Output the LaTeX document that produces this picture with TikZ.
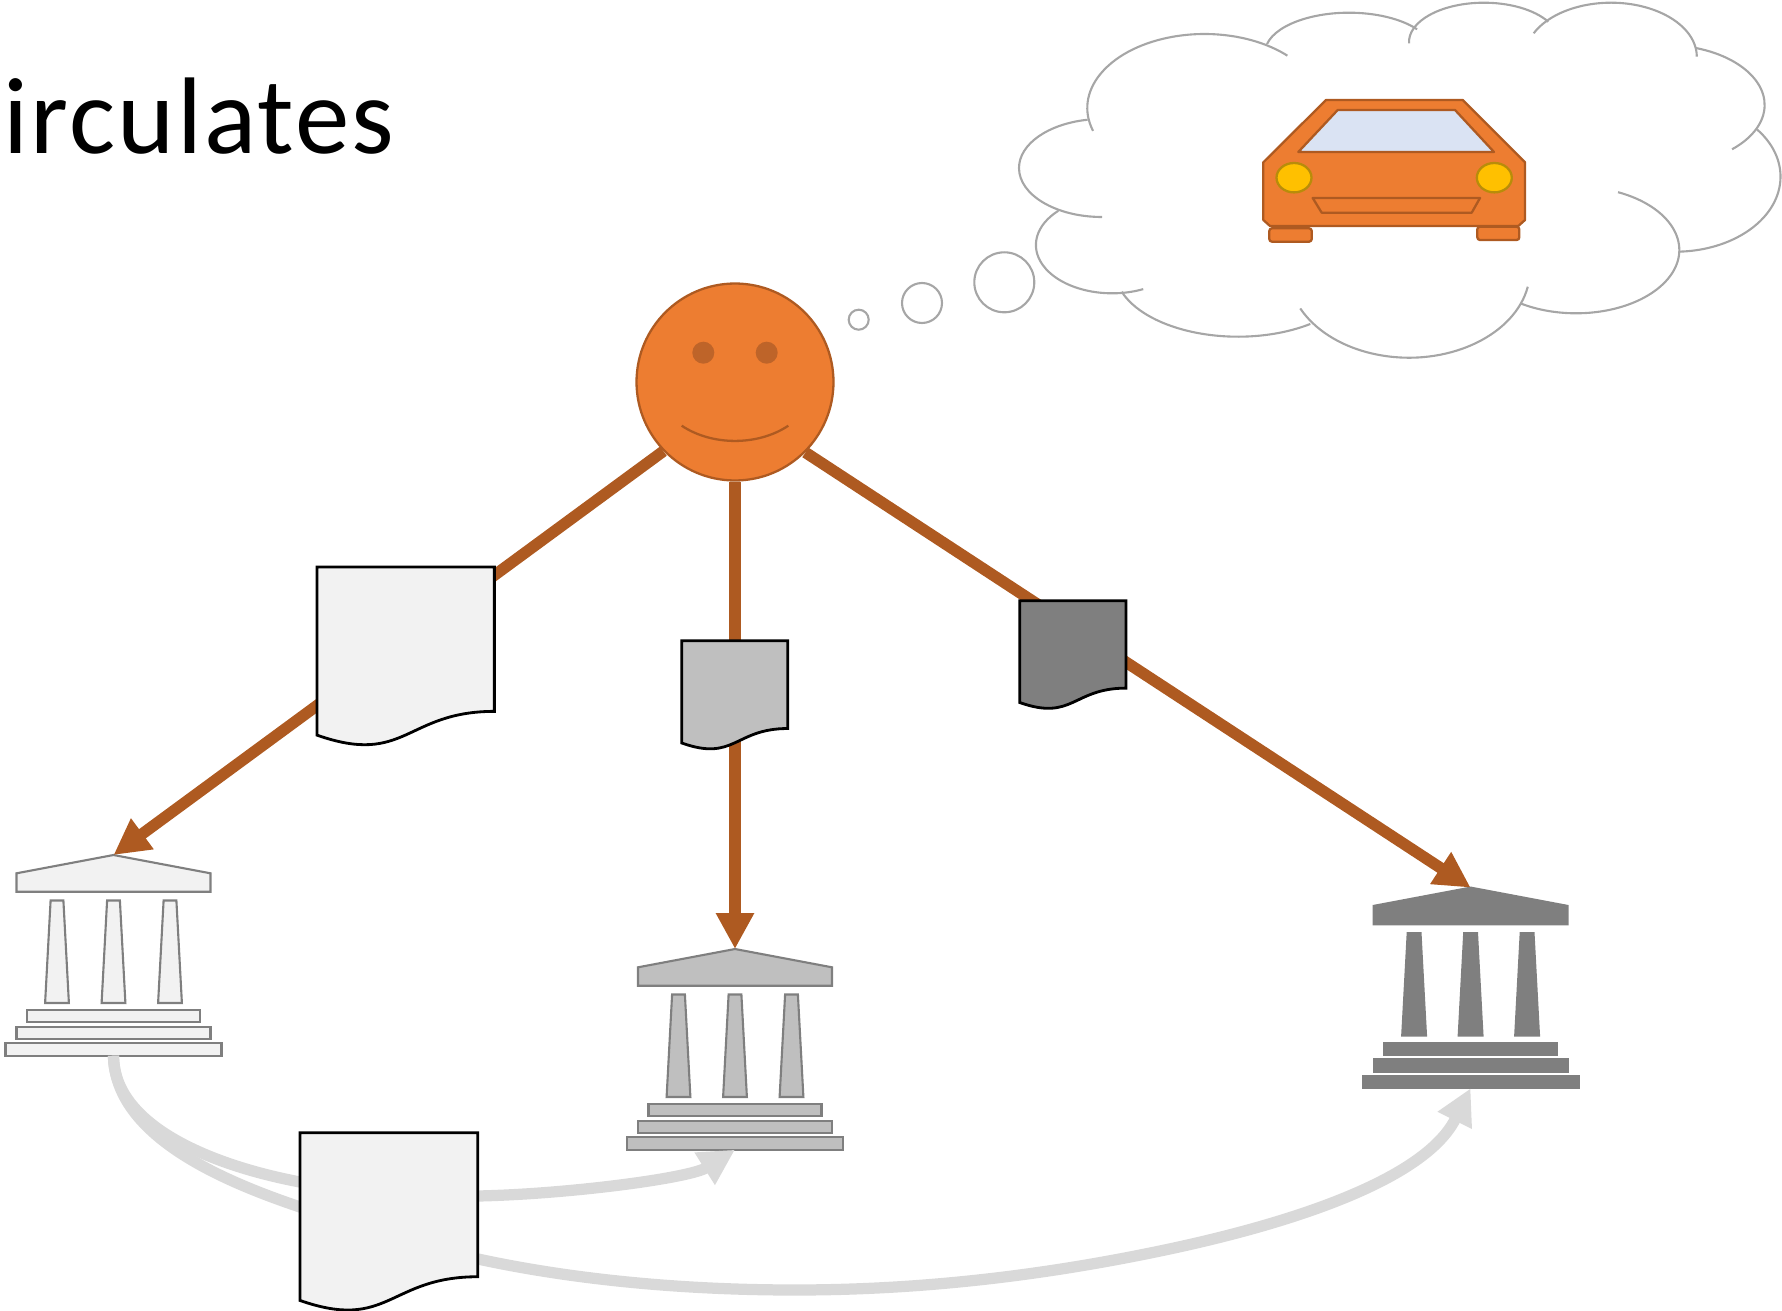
\documentclass[tikz,border=0pt]{standalone}
\usepackage{fontspec}
\setmainfont{Carlito}
\usetikzlibrary{arrows.meta}

\newcommand{\lobe}[6]{\draw[cloudline] ({#1+#3*cos(#5)},{#2+#4*sin(#5)}) arc[start angle=#5,end angle=#6,x radius=#3,y radius=#4];}

\begin{document}
\begin{tikzpicture}[
        x=0.02cm,
        y=-0.02cm,
        cloudline/.style={
            draw=cloudgrey,
            line width=1.2pt
          },
        carline/.style={
            draw=rust,
            line width=1.3pt,
            line join=round
          },
        payment/.style={
            draw=rust,
            line width=6.5pt,
            -{Triangle[length=20.4pt,width=20.4pt]}
          },
        transfer/.style={
            draw=flowgrey,
            line width=6.4pt,
            -{Triangle[length=20.4pt,width=20.4pt]}
          },
        pics/paper/.style args={#1/#2/#3}{code={
            \draw[fill=#3,line width=1.6pt,line join=miter]
              (0,0) -- (#1,0) -- (#1,0.802*#2)
              .. controls (0.5*#1,0.802*#2) and (0.5*#1,1.1075*#2) .. (0,0.934*#2)
              -- cycle;
          }},
        pics/bank/.style={code={
            \coordinate (-apex) at (0,0);
            \coordinate (-foot) at (0,200.7);
            \begin{scope}[draw=bankline,fill=#1,line width=1.2pt]
              \filldraw (0,0) -- (97,18.3) -- (97,36.7) -- (-97,36.7) -- (-97,18.3) -- cycle;
              \foreach \dx in {-56.5,0,56.5}
                \filldraw (\dx-6.4,45.5) -- (\dx+6.4,45.5) -- (\dx+11.9,148) -- (\dx-11.9,148) -- cycle;
              \filldraw (-86.5,155.3) rectangle (86.5,167.3);
              \filldraw (-97,171.7) rectangle (97,184);
              \filldraw (-108,188) rectangle (108,200.7);
            \end{scope}
          }}]
        % Define colors
        \definecolor{skin}{HTML}{ED7D31}
        \definecolor{rust}{HTML}{AE5A21}
        \definecolor{eyefill}{HTML}{BE6429}
        \definecolor{cloudgrey}{HTML}{A6A6A6}
        \definecolor{flowgrey}{HTML}{D9D9D9}
        \definecolor{bankline}{HTML}{7F7F7F}
        \definecolor{lightfill}{HTML}{F2F2F2}
        \definecolor{midfill}{HTML}{BFBFBF}
        \definecolor{darkfill}{HTML}{7F7F7F}
        \definecolor{glass}{HTML}{DAE3F3}
        \definecolor{lamp}{HTML}{FFC000}
        \definecolor{lampline}{HTML}{B88C0A}

        \useasboundingbox (0,0) rectangle (1782,1311);

        % Title
        \node[anchor=base west,inner sep=0pt,font=\fontsize{62}{62}\selectfont\addfontfeature{LetterSpace=2.1}] (title) at (3,154) {irculates};

        % Person
        \node[circle,fill=skin,draw=rust,line width=1.3pt,inner sep=0pt,minimum size=3.94cm] (person) at (735,382) {};
        \fill[eyefill] (703.3,352.7) circle (11);
        \fill[eyefill] (766.7,352.7) circle (11);
        \draw[rust,line width=1.3pt] (681.7,425.7) .. controls (712,446) and (758,446) .. (788.3,425.7);

        % Banks
        \pic (bankA) at (113.5,855) {bank=lightfill};
        \pic (bankB) at (735,949) {bank=midfill};
        \pic (bankC) at (1470.6,887.6) {bank=darkfill};

        % Payments from the person
        \draw[payment] (person.224) -- (bankA-apex);
        \draw[payment] (person) -- (bankB-apex);
        \draw[payment] (person.-45) -- (bankC-apex);

        % Transfers between banks
        \draw[transfer] (bankA-foot)
          .. controls (113.5,1125) and (210,1165) .. (300,1182)
          .. controls (360,1194) and (400,1197) .. (478,1196)
          .. controls (570,1194) and (690,1178) .. (bankB-foot);
        \draw[transfer] (bankA-foot)
          .. controls (115,1135) and (220,1180) .. (300,1207)
          .. controls (360,1228) and (420,1245) .. (478,1259)
          .. controls (580,1281) and (690,1290) .. (795,1290)
          .. controls (920,1290) and (1040,1276) .. (1160,1251)
          .. controls (1290,1224) and (1425,1180) .. (bankC-foot);

        % Notes
        \pic (noteA) at (317,567) {paper=177.4/180/lightfill};
        \pic (noteB) at (681.7,640.7) {paper=106/109.5/midfill};
        \pic (noteC) at (1019.7,600.7) {paper=106.3/109/darkfill};
        \pic (noteD) at (300,1132.7) {paper=177.7/179.6/lightfill};

        % Thought bubbles
        \node[circle,draw=cloudgrey,line width=1.2pt,inner sep=0pt,minimum size=0.4cm] (puffA) at (858.7,319.7) {};
        \node[circle,draw=cloudgrey,line width=1.2pt,inner sep=0pt,minimum size=0.8cm] (puffB) at (922,303) {};
        \node[circle,draw=cloudgrey,line width=1.2pt,inner sep=0pt,minimum size=1.2cm] (puffC) at (1004.3,282.3) {};

        % Cloud
        \lobe{1204.5}{108}{117.2}{74}{162}{315}
        \lobe{1349}{52.7}{84}{40}{192.6}{324.2}
        \lobe{1484}{42}{75}{39.3}{178}{329}
        \lobe{1611}{56.7}{85.8}{54}{205.7}{360}
        \lobe{1664.6}{105}{100}{60}{-71.8}{47.6}
        \lobe{1675.5}{176.7}{105}{75}{-39}{88}
        \lobe{1576}{250}{103.3}{63.3}{-66}{122}
        \lobe{1409}{270}{121}{87.7}{11}{154}
        \lobe{1238}{270}{123}{66.7}{54}{161}
        \lobe{1112.2}{245}{76.3}{48.3}{66}{225}
        \lobe{1102}{168}{83}{49}{90}{260}

        % Car
        \draw[carline,fill=skin,rounded corners=1.5] (1269.3,228.3) rectangle (1311.7,241.7);
        \draw[carline,fill=skin,rounded corners=1.5] (1477.3,226.7) rectangle (1519.3,240);
        \draw[carline,fill=skin] (1326,100) -- (1462.7,100) -- (1525,162.3) -- (1525,220) -- (1518.3,226)
          -- (1270,226) -- (1263.3,220) -- (1263.3,162.3) -- cycle;
        \draw[carline,fill=glass] (1337.7,110) -- (1455,110) -- (1494,152) -- (1298.3,152) -- cycle;
        \draw[carline,fill=none] (1312.7,198) -- (1480,198) -- (1471.7,212.7) -- (1321.7,212.7) -- cycle;
        \draw[draw=lampline,line width=1.3pt,fill=lamp] (1294,177.7) ellipse (17.5 and 14.7);
        \draw[draw=lampline,line width=1.3pt,fill=lamp] (1494.3,177.7) ellipse (17.5 and 14.7);
    \end{tikzpicture}
\end{document}
